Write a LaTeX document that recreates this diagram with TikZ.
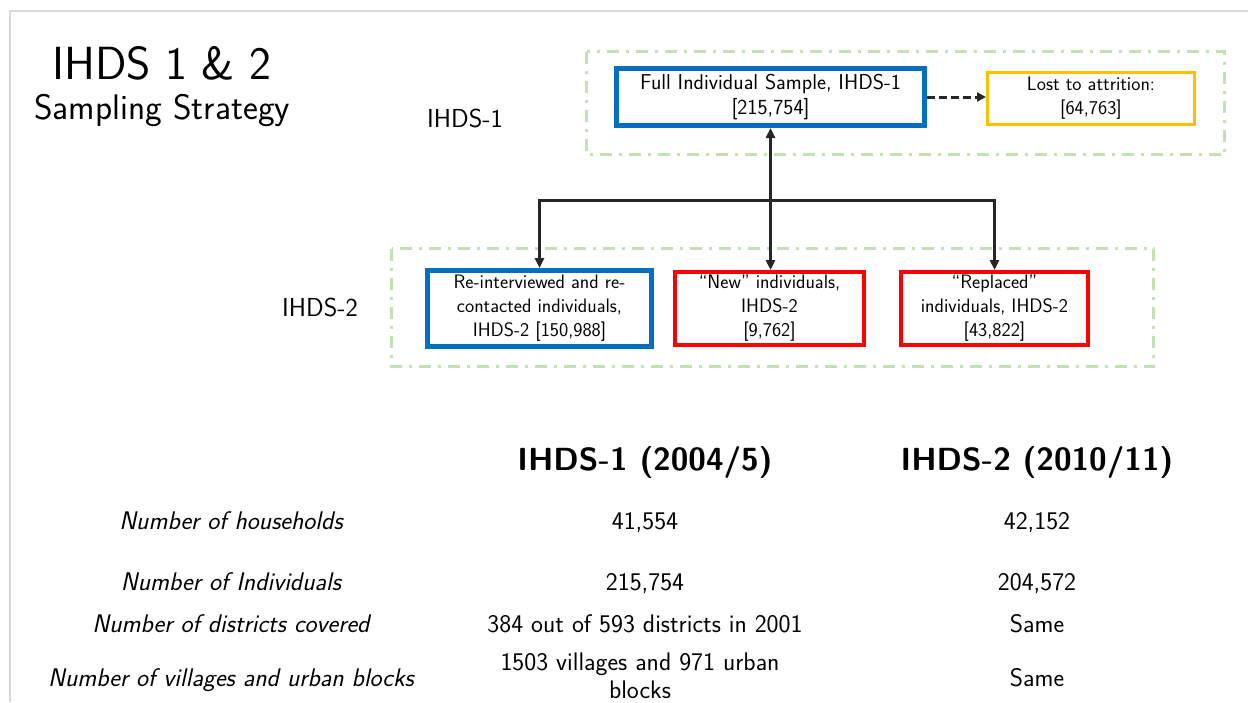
\documentclass[tikz,border=0pt]{standalone}
\usepackage{fontspec}
\usetikzlibrary{arrows.meta,calc}
\definecolor{ibl}{HTML}{0070C0}
\definecolor{ired}{HTML}{FF0000}
\definecolor{iyel}{HTML}{FFC000}
\definecolor{igrn}{HTML}{C5E0B4}
\definecolor{igry}{HTML}{D9D9D9}
\definecolor{idark}{HTML}{262626}
\begin{document}
\begin{tikzpicture}[x=1pt,y=-1pt,
  every node/.style={font=\sffamily, inner sep=0pt, text=black},
  box/.style={draw, fill=white, align=center, font=\sffamily\fontsize{19.5}{24}\selectfont},
  grp/.style={draw=igrn, line width=3pt, dash pattern=on 12pt off 7pt on 3pt off 7pt},
  conn/.style={draw=idark, line width=3pt, -{Triangle[length=10pt,width=9pt]}},
  lbl/.style={font=\sffamily\fontsize{26}{30}\selectfont, anchor=base},
  hdr/.style={font=\sffamily\bfseries\fontsize{32}{36}\selectfont, anchor=base},
  rowl/.style={font=\sffamily\itshape\fontsize{25.5}{28}\selectfont, anchor=base},
  cell/.style={font=\sffamily\fontsize{25.4}{28}\selectfont, anchor=base, align=center},
]
\useasboundingbox (0,0) rectangle (1248,702);
\fill[white] (0,0) rectangle (1248,702);
\draw[igry, line width=2pt] (10,702) -- (10,11) -- (1248,11);

\draw[grp] (586.5,51.5) rectangle (1224.5,154.5);
\draw[grp] (391.5,248.5) rectangle (1153.5,366.5);

\node[box, draw=ibl, line width=5pt, minimum width=308pt, minimum height=57pt, font=\sffamily\fontsize{21.5}{24.5}\selectfont] (full) at (770.5,97) {Full Individual Sample, IHDS-1\\{[215,754]}};
\node[box, draw=iyel, line width=3pt, minimum width=207pt, minimum height=52pt] (lost) at (1091,98.5) {Lost to attrition:\\{[64,763]}};
\node[box, draw=ibl, line width=5pt, minimum width=224pt, minimum height=76pt] (reint) at (539.5,308.5) {Re-interviewed and re-\\contacted individuals,\\IHDS-2 {[150,988]}};
\node[box, draw=ired, line width=4pt, minimum width=189pt, minimum height=73pt] (new) at (769.5,308.5) {“New” individuals,\\IHDS-2\\{[9,762]}};
\node[box, draw=ired, line width=4pt, minimum width=187pt, minimum height=73pt] (repl) at (994.5,308.5) {“Replaced”\\individuals, IHDS-2\\{[43,822]}};

\coordinate (hub) at (770,200);
\draw[conn, {Triangle[length=10pt,width=9pt]}-{Triangle[length=10pt,width=9pt]}] (full.south) -- (full.south |- new.north);
\draw[conn] (hub) -| (reint.north);
\draw[conn] (hub) -| (repl.north);
\draw[conn, dash pattern=on 8pt off 4pt, -{Triangle[length=9pt,width=9pt]}] (full.east) -- (full.east -| lost.west);

\node[lbl] (l1) at (465,127) {IHDS-1};
\node[lbl] (l2) at (320,316) {IHDS-2};
\node[font=\sffamily\fontsize{46.5}{50}\selectfont, anchor=base west] (t1) at (52,79) {IHDS 1 \& 2};
\node[font=\sffamily\fontsize{35.5}{38}\selectfont, anchor=base west] (t2) at (34,119) {Sampling Strategy};

\node[hdr] (h1) at (645,470) {IHDS-1 (2004/5)};
\node[hdr] (h2) at (1037,470) {IHDS-2 (2010/11)};
\node[rowl] (r1) at (231,529) {Number of households};
\node[cell] (a1) at (645,529) {41,554};
\node[cell] (b1) at (1037,529) {42,152};
\node[rowl] (r2) at (231,590) {Number of Individuals};
\node[cell] (a2) at (645,590) {215,754};
\node[cell] (b2) at (1037,590) {204,572};
\node[rowl] (r3) at (231,632) {Number of districts covered};
\node[cell] (a3) at (645,632) {384 out of 593 districts in 2001};
\node[cell] (b3) at (1037,632) {Same};
\node[rowl] (r4) at (231,686) {Number of villages and urban blocks};
\node[cell, anchor=center] (a4) at (640,676) {1503 villages and 971 urban\\blocks};
\node[cell] (b4) at (1037,686) {Same};
\end{tikzpicture}
\end{document}
